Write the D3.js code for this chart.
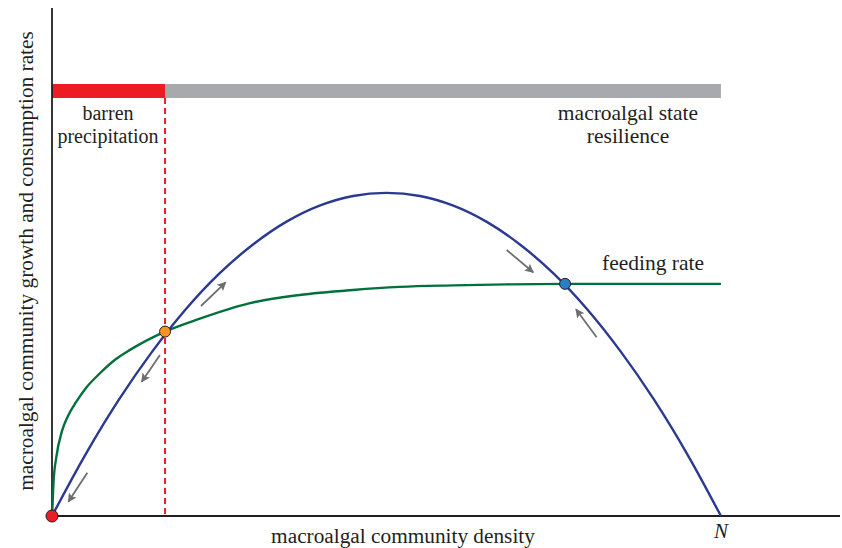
<!DOCTYPE html>
<html>
<head>
<meta charset="utf-8">
<script src="https://cdn.jsdelivr.net/npm/d3@7"></script>
<style>
  html, body { margin: 0; padding: 0; background: #fff; }
  svg { display: block; }
  text { font-family: "Liberation Serif", "Times New Roman", serif; fill: #231f20; }
</style>
</head>
<body>
<svg id="chart" width="842" height="548"></svg>
<script>
// Macroalgal density, as % of carrying capacity N
const growthDensity = [0, 5, 10, 15, 20, 25, 30, 35, 40, 45, 50, 55, 60, 65, 70, 75, 80, 85, 90, 95, 100];
// Community growth rate (relative units)
const growthRate = [0, 12.1, 22.9, 32.4, 40.7, 47.7, 53.4, 57.9, 61.1, 63.0, 63.6, 63.0, 61.1, 57.9, 53.4, 47.7, 40.7, 32.4, 22.9, 12.1, 0];

// Feeding (consumption) rate of grazers
const feedingDensity = [0, 0.22, 0.67, 1.49, 2.39, 3.59, 5.08, 7.17, 9.57, 11.66, 16.9, 22, 29.6, 37, 45, 52, 60, 68, 76.7, 88, 100];
const feedingRate = [0, 6.5, 11.8, 16.7, 19.7, 22.4, 25.2, 28.1, 30.9, 32.7, 36.3, 38.8, 41.9, 43.5, 44.5, 45.1, 45.4, 45.6, 45.7, 45.7, 45.7];

// Equilibria: barren, unstable threshold, macroalgal state
const equilibria = [
  { name: "barren", x: 0, y: 0, r: 6, color: "#ed1c24" },
  { name: "threshold", x: 16.9, y: 36.3, r: 5.5, color: "#f7941d" },
  { name: "macroalgal", x: 76.7, y: 45.7, r: 5.5, color: "#2a7fc4" }
];

// Direction-of-change arrows (tail -> head)
const arrows = [
  { x0: 5.28, y0: 8.52, x1: 2.44, y1: 2.81 },
  { x0: 16.14, y0: 31.69, x1: 13.41, y1: 26.44 },
  { x0: 22.27, y0: 41.34, x1: 25.96, y1: 46.0 },
  { x0: 67.97, y0: 52.36, x1: 71.94, y1: 47.97 },
  { x0: 81.42, y0: 35.18, x1: 78.33, y1: 40.69 }
];

// Basins along the density axis
const basins = [
  { from: 0, to: 16.9, color: "#ed1c24", label: ["barren", "precipitation"] },
  { from: 16.9, to: 100, color: "#a7a9ac", label: ["macroalgal state", "resilience"] }
];
const thresholdDensity = 16.9;
const carryingCapacity = 100;

const svg = d3.select("#chart");
const x = d3.scaleLinear().domain([0, 117.8]).range([52, 840]);
const y = d3.scaleLinear().domain([0, 100]).range([516, 8]);

const ink = "#231f20";
const arrowGrey = "#6d6e71";

// Basin bar
const barTop = 84, barH = 14;
svg.selectAll("rect.basin").data(basins).join("rect")
  .attr("class", "basin")
  .attr("x", d => x(d.from))
  .attr("y", barTop)
  .attr("width", d => x(d.to) - x(d.from))
  .attr("height", barH)
  .attr("fill", d => d.color);

// Threshold dashed line
svg.append("line")
  .attr("x1", x(thresholdDensity)).attr("x2", x(thresholdDensity))
  .attr("y1", barTop + barH).attr("y2", y(0))
  .attr("stroke", "#ed1c24").attr("stroke-width", 2)
  .attr("stroke-dasharray", "6,4");

// Axes (plain lines, no ticks)
svg.append("line")
  .attr("x1", x(0)).attr("x2", x(0)).attr("y1", y(100)).attr("y2", y(0))
  .attr("stroke", ink).attr("stroke-width", 1.8);
svg.append("line")
  .attr("x1", x(0)).attr("x2", x(117.8)).attr("y1", y(0)).attr("y2", y(0))
  .attr("stroke", ink).attr("stroke-width", 1.8);

// Curves
svg.append("path")
  .datum(d3.zip(feedingDensity, feedingRate))
  .attr("d", d3.line().x(d => x(d[0])).y(d => y(d[1])).curve(d3.curveMonotoneX))
  .attr("fill", "none").attr("stroke", "#00703c").attr("stroke-width", 2.4);
svg.append("path")
  .datum(d3.zip(growthDensity, growthRate))
  .attr("d", d3.line().x(d => x(d[0])).y(d => y(d[1])).curve(d3.curveCatmullRom))
  .attr("fill", "none").attr("stroke", "#2b3990").attr("stroke-width", 2.4);

// Arrows
const defs = svg.append("defs");
defs.append("marker")
  .attr("id", "head")
  .attr("viewBox", "0 0 10 10")
  .attr("refX", 9).attr("refY", 5)
  .attr("markerWidth", 6).attr("markerHeight", 5)
  .attr("markerUnits", "strokeWidth")
  .attr("orient", "auto")
  .append("path").attr("d", "M0,0 L10,5 L0,10 L2,5 Z").attr("fill", arrowGrey);
svg.selectAll("line.arrow").data(arrows).join("line")
  .attr("class", "arrow")
  .attr("x1", d => x(d.x0)).attr("y1", d => y(d.y0))
  .attr("x2", d => x(d.x1)).attr("y2", d => y(d.y1))
  .attr("stroke", arrowGrey).attr("stroke-width", 1.8)
  .attr("marker-end", "url(#head)");

// Equilibrium points
svg.selectAll("circle.eq").data(equilibria).join("circle")
  .attr("class", "eq")
  .attr("cx", d => x(d.x)).attr("cy", d => y(d.y))
  .attr("r", d => d.r)
  .attr("fill", d => d.color)
  .attr("stroke", ink).attr("stroke-width", 1);

// Basin labels
svg.append("text").attr("x", 108).attr("y", 120).attr("text-anchor", "middle")
  .attr("font-size", 20).text(basins[0].label[0]);
svg.append("text").attr("x", 108).attr("y", 143).attr("text-anchor", "middle")
  .attr("font-size", 20).text(basins[0].label[1]);
svg.append("text").attr("x", 628).attr("y", 120).attr("text-anchor", "middle")
  .attr("font-size", 21.5).text(basins[1].label[0]);
svg.append("text").attr("x", 628).attr("y", 143).attr("text-anchor", "middle")
  .attr("font-size", 21.5).text(basins[1].label[1]);

svg.append("text").attr("x", 602).attr("y", 270)
  .attr("font-size", 21.5).text("feeding rate");

// Axis titles
svg.append("text").attr("x", 403).attr("y", 543).attr("text-anchor", "middle")
  .attr("font-size", 21.3).text("macroalgal community density");
svg.append("text").attr("x", x(carryingCapacity)).attr("y", 538).attr("text-anchor", "middle")
  .attr("font-size", 21).attr("font-style", "italic").text("N");
svg.append("text")
  .attr("transform", "translate(33,261) rotate(-90)")
  .attr("text-anchor", "middle")
  .attr("font-size", 21.3).text("macroalgal community growth and consumption rates");
</script>
</body>
</html>
